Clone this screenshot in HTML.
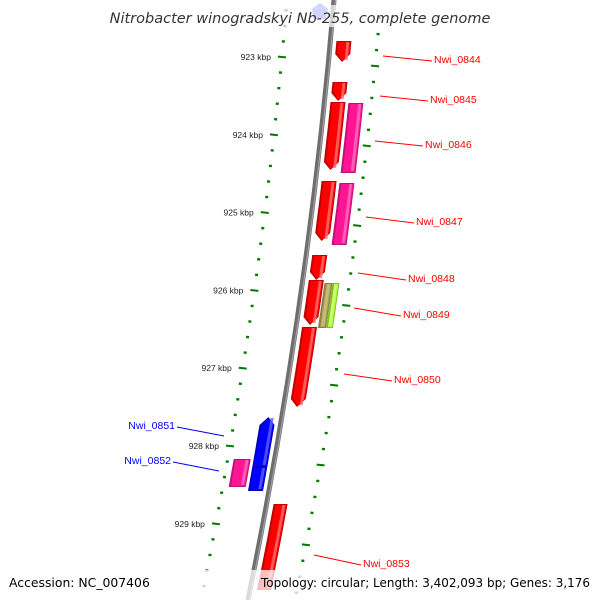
<!DOCTYPE html>
<html><head><meta charset="utf-8"><style>
html,body{margin:0;padding:0;background:#fff;width:600px;height:600px;overflow:hidden}
svg{display:block}
text{font-family:"Liberation Sans","DejaVu Sans",sans-serif}
</style></head><body>
<svg id="map" width="600" height="600" viewBox="0 0 600 600" xmlns="http://www.w3.org/2000/svg">
<path id="backbone" d="M334,0 Q309,300 248,600" fill="none" stroke="#6e6e6e" stroke-width="5"/>
<path d="M335.3,0 Q310.3,300 249.3,600" fill="none" stroke="#a0a0a0" stroke-width="1.2"/>
<g id="ticks"></g>
<g id="genes"></g>
<g id="labels"></g>
<rect x="110" y="5" width="380" height="22" fill="#fff" opacity="0.7"/>
<polygon points="320,3 328,9 326,19 314,19 312,9" fill="#ccd0ff" opacity="0.9"/>
<text x="300" y="23" text-anchor="middle" font-size="14.5" font-style="italic" fill="#333" style="font-family:'DejaVu Sans',sans-serif">Nitrobacter winogradskyi Nb-255, complete genome</text>
<rect x="0" y="570" width="600" height="30" fill="#fff" opacity="0.75"/>
<text x="9" y="587" font-size="12.4" fill="#000" style="font-family:'DejaVu Sans',sans-serif">Accession: NC_007406</text>
<text x="261" y="587" font-size="12.4" fill="#000" textLength="329" lengthAdjust="spacingAndGlyphs" style="font-family:'DejaVu Sans',sans-serif">Topology: circular; Length: 3,402,093 bp; Genes: 3,176</text>
</svg>
<script>
const majorKbp = [923, 924, 925, 926, 927, 928, 929];
const majorLabels = ["923 kbp", "924 kbp", "925 kbp", "926 kbp", "927 kbp", "928 kbp", "929 kbp"];
const geneStart = [922.794, 923.321, 923.578, 923.591, 924.594, 924.620, 925.545, 925.866, 925.905, 925.905, 926.470, 927.627, 928.270, 928.167, 928.746];
const geneEnd   = [923.064, 923.566, 924.452, 924.491, 925.365, 925.416, 925.866, 926.445, 926.483, 926.483, 927.499, 928.270, 928.578, 928.527, 929.851];
const geneNames = ["Nwi_0844","Nwi_0845","Nwi_0846","Nwi_0846b","Nwi_0847","Nwi_0847b","Nwi_0848","Nwi_0849","Nwi_0849b","Nwi_0849c","Nwi_0850","Nwi_0851","Nwi_0851b","Nwi_0852","Nwi_0853"];
const labelNames = ["Nwi_0844","Nwi_0845","Nwi_0846","Nwi_0847","Nwi_0848","Nwi_0849","Nwi_0850","Nwi_0853","Nwi_0851","Nwi_0852"];

const NS="http://www.w3.org/2000/svg";
function bx(y){const t=y/600;return (1-t)*(1-t)*334+2*t*(1-t)*309+t*t*248;}
function yL(k){return 57+(k-923)*77.8;}
function yR(k){return 66+(k-923)*79.8;}
function yG(k){return 57+(k-923)*77.8;}
function mk(tag,attrs,parent){const e=document.createElementNS(NS,tag);for(const a in attrs)e.setAttribute(a,attrs[a]);parent.appendChild(e);return e;}

const tg=document.getElementById('ticks');
for(let k=922.4;k<=930.2;k+=0.2){
  const kk=Math.round(k*5)/5;
  const isMajor=Math.abs(kk-Math.round(kk))<0.01;
  [[yL,-47],[yR,47]].forEach(([f,off])=>{
    const y=f(kk); if(y<-5||y>605)return;
    const x=bx(y)+off;
    const w=isMajor?8:3, h=isMajor?2:2.4;
    const r=mk('rect',{x:x-w/2,y:y-h/2,width:w,height:h,fill:'#007a00',transform:`rotate(6 ${x} ${y})`},tg);
    
    
  });
}
majorKbp.forEach((k,i)=>{
  const y=yL(k);
  const t=mk('text',{x:bx(y)-58,y:y+3,'text-anchor':'end','font-size':'8.5',fill:'#222'},tg);
  
  
  t.textContent=majorLabels[i];
});

const styles=[
 [6,21,1,'#ff0000','#ff7070','#c00000'],
 [6,21,1,'#ff0000','#ff7070','#c00000'],
 [6,21,1,'#ff0000','#ff7070','#c00000'],
 [24,39,0,'#ff1493','#ff70c0','#c0107a'],
 [6,21,1,'#ff0000','#ff7070','#c00000'],
 [24,39,0,'#ff1493','#ff70c0','#c0107a'],
 [6,21,1,'#ff0000','#ff7070','#c00000'],
 [6,21,1,'#ff0000','#ff7070','#c00000'],
 [22,30,0,'#b0a060','#d0c080','#908040'],
 [30,37,0,'#adff2f','#d0ff80','#80c020'],
 [6,21,1,'#ff0000','#ff7070','#c00000'],
 [-21,-6,-1,'#0000ff','#6060ff','#0000c0'],
 [-21,-6,0,'#0000ff','#6060ff','#0000c0'],
 [-41,-24,0,'#ff1493','#ff70c0','#c0107a'],
 [7,21,0,'#ff0000','#ff7070','#c00000']
];
const gg=document.getElementById('genes');
function genePoly(y1,y2,o1,o2,arrow){
  const pts=[];const n=8;const ah=8;
  let a=y1,b=y2;
  if(arrow===1)b=y2-ah; if(arrow===-1)a=y1+ah;
  if(arrow===-1)pts.push([bx(y1)+(o1+o2)/2,y1]);
  for(let i=0;i<=n;i++){const y=a+(b-a)*i/n;pts.push([bx(y)+o2,y]);}
  if(arrow===1)pts.push([bx(y2)+(o1+o2)/2,y2]);
  for(let i=n;i>=0;i--){const y=a+(b-a)*i/n;pts.push([bx(y)+o1,y]);}
  return pts.map(p=>p[0].toFixed(1)+','+p[1].toFixed(1)).join(' ');
}
geneStart.forEach((s,i)=>{
  const [o1,o2,ar,fill,light,dark]=styles[i];
  const y1=yG(s),y2=yG(geneEnd[i]);
  const g=mk('g',{},gg);
  
  
  mk('polygon',{points:genePoly(y1,y2,o1,o2,ar),fill:dark},g);
  mk('polygon',{points:genePoly(y1+1,y2-1,o1+2,o2-1,ar),fill:fill},g);
  mk('polygon',{points:genePoly(y1+1,y2-2,o2-5,o2-2,0),fill:light,opacity:0.8},g);
});

const lx=[434,430,425,416,408,403,394,363,175,171];
const gl=document.getElementById('labels');
const labelY=[59,99,144,221,278,314,379,563,425,460];
const lineFrom=[[383,56],[380,96],[375,141],[366,217],[358,273],[354,308],[344,374],[314,555],[224,436],[219,471]];
labelNames.forEach((nm,i)=>{
  const blue=i>=8;
  const col=blue?'#0000ff':'#ff0000';
  const g=mk('g',{},gl);
  
  
  const x2=blue?lx[i]+2:lx[i]-2;
  mk('line',{x1:lineFrom[i][0],y1:lineFrom[i][1],x2:x2,y2:labelY[i]+2,stroke:col,'stroke-width':1},g);
  const t=mk('text',{x:lx[i],y:labelY[i]+4,'font-size':'10.5',fill:col,'text-anchor':blue?'end':'start'},g);
  t.textContent=nm;
});
</script>
</body></html>
